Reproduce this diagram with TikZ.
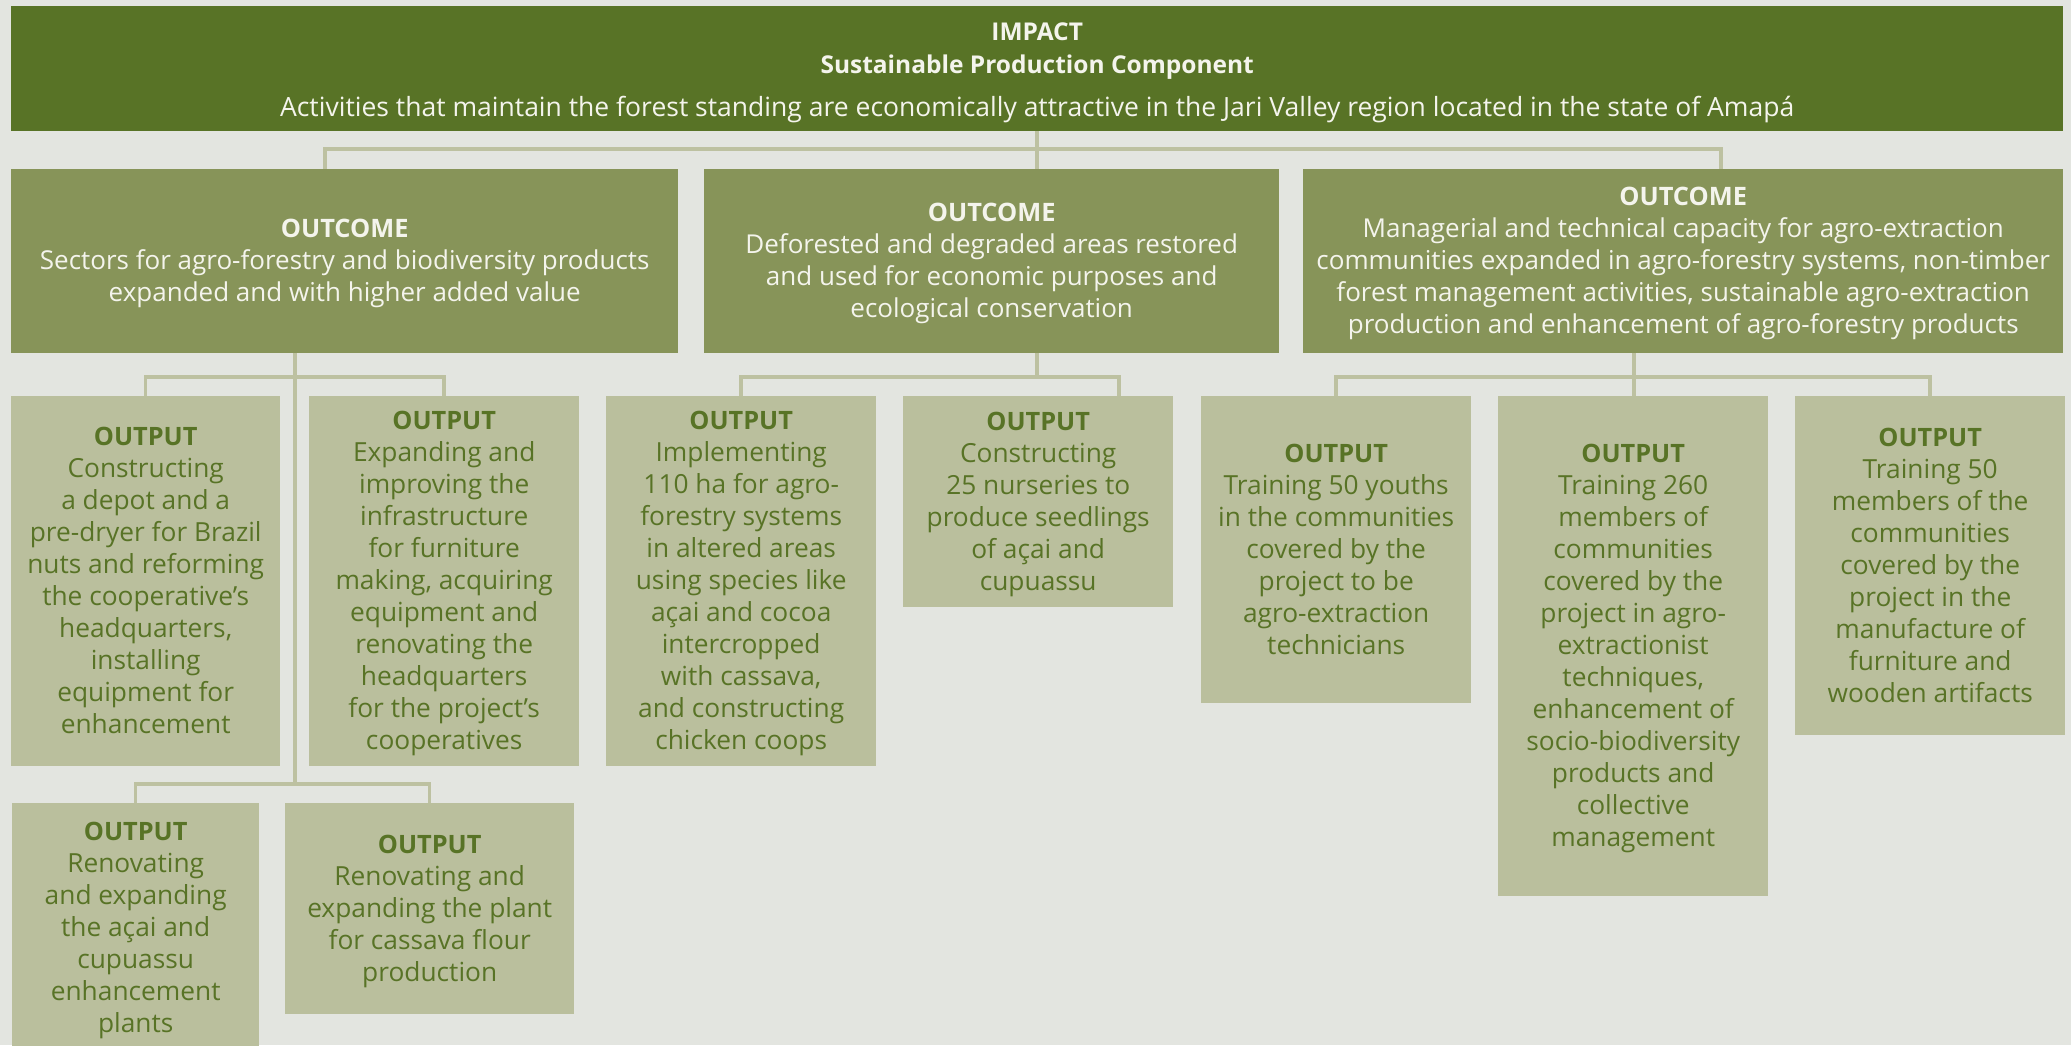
\documentclass[tikz,border=0pt]{standalone}
\usepackage{fontspec}
\setmainfont{Open Sans}
\definecolor{bg}{HTML}{E3E5E0}
\definecolor{impc}{HTML}{587326}
\definecolor{outc}{HTML}{879459}
\definecolor{outp}{HTML}{BABF9D}
\definecolor{conn}{HTML}{BDC1A1}
\definecolor{txtg}{HTML}{587326}
\definecolor{txtw}{HTML}{F4F4EC}
\newcommand\imphd[1]{{\fontsize{24.5}{33}\selectfont\bfseries #1}}
\newcommand\ochd{\rule{0pt}{27pt}{\fontsize{25.4}{32}\selectfont\bfseries OUTCOME}}
\newcommand\ophd{\rule{0pt}{27pt}{\fontsize{25.3}{32}\selectfont\bfseries OUTPUT}}
\tikzset{
  box/.style={anchor=north west, inner sep=0pt, align=center,
    execute at end node={\rule[-9.6pt]{0pt}{9.6pt}}},
  impbox/.style={anchor=north west, inner sep=0pt, align=center, fill=impc, text=txtw,
    font=\fontsize{26.5}{33}\selectfont},
  outcomebox/.style={box, fill=outc, text=txtw, font=\fontsize{26}{32}\selectfont},
  outputbox/.style={box, fill=outp, text=txtg, font=\fontsize{26.3}{32}\selectfont},
  link/.style={draw=conn, line width=3.5pt},
}
\begin{document}
\begin{tikzpicture}[x=1pt,y=-1pt]
\useasboundingbox (0,0) rectangle (2071,1045);
\fill[bg] (0,0) rectangle (2071,1045);
\clip (0,0) rectangle (2071,1045);

% impact
\node[impbox, minimum width=2052pt, minimum height=125pt] (imp) at (11,6)
  {\rule{0pt}{25pt}\imphd{IMPACT}\\ \imphd{Sustainable Production Component}\\[10pt]
   Activities that maintain the forest standing are economically attractive in the Jari Valley region located in the state of Amapá};

% outcomes
\node[outcomebox, minimum width=667pt, minimum height=184pt] (o1) at (11,169)
  {\ochd\\ Sectors for agro-forestry and biodiversity products\\ expanded and with higher added value};
\node[outcomebox, minimum width=575pt, minimum height=184pt] (o2) at (704,169)
  {\ochd\\ Deforested and degraded areas restored\\ and used for economic purposes and\\ ecological conservation};
\node[outcomebox, minimum width=760pt, minimum height=184pt] (o3) at (1303,169)
  {\ochd\\ Managerial and technical capacity for agro-extraction\\ communities expanded in agro-forestry systems, non-timber\\ forest management activities, sustainable agro-extraction\\ production and enhancement of agro-forestry products};

% outputs
\node[outputbox, minimum width=269pt, minimum height=370pt] (a1) at (11,396)
  {\ophd\\ Constructing\\ a depot and a\\ pre-dryer for Brazil\\ nuts and reforming\\ the cooperative’s\\ headquarters,\\ installing\\ equipment for\\ enhancement};
\node[outputbox, minimum width=270pt, minimum height=370pt] (a2) at (309,396)
  {\ophd\\ Expanding and\\ improving the\\ infrastructure\\ for furniture\\ making, acquiring\\ equipment and\\ renovating the\\ headquarters\\ for the project’s\\ cooperatives};
\node[outputbox, minimum width=270pt, minimum height=370pt] (b1) at (606,396)
  {\ophd\\ Implementing\\ 110 ha for agro-\\ forestry systems\\ in altered areas\\ using species like\\ açai and cocoa\\ intercropped\\ with cassava,\\ and constructing\\ chicken coops};
\node[outputbox, minimum width=270pt, minimum height=211pt] (b2) at (903,396)
  {\ophd\\ Constructing\\ 25 nurseries to\\ produce seedlings\\ of açai and\\ cupuassu};
\node[outputbox, minimum width=270pt, minimum height=307pt] (c1) at (1201,396)
  {\ophd\\ Training 50 youths\\ in the communities\\ covered by the\\ project to be\\ agro-extraction\\ technicians};
\node[outputbox, minimum width=270pt, minimum height=500pt] (c2) at (1498,396)
  {\ophd\\ Training 260\\ members of\\ communities\\ covered by the\\ project in agro-\\ extractionist\\ techniques,\\ enhancement of\\ socio-biodiversity\\ products and\\ collective\\ management};
\node[outputbox, minimum width=270pt, minimum height=339pt] (c3) at (1795,396)
  {\ophd\\ Training 50\\ members of the\\ communities\\ covered by the\\ project in the\\ manufacture of\\ furniture and\\ wooden artifacts};
\node[outputbox, minimum width=247pt, minimum height=249pt] (a3) at (12,803)
  {\ophd\\ Renovating\\ and expanding\\ the açai and\\ cupuassu\\ enhancement\\ plants};
\node[outputbox, minimum width=289pt, minimum height=211pt] (a4) at (285,803)
  {\ophd\\ Renovating and\\ expanding the plant\\ for cassava flour\\ production};

% connectors
\coordinate (i1) at (325,149);
\coordinate (i3) at (1721,149);
\draw[link] (i1 |- o1.north) |- (i3) -- (i3 |- o3.north);
\draw[link] (imp.south) -- (imp.south |- o2.north);

\coordinate (ba) at (295,377);
\coordinate (bb) at (295,784);
\draw[link] (ba |- o1.south) -- (bb);
\draw[link] (a1.north) |- (ba) -| (a2.north);
\draw[link] (a3.north) |- (bb) -| (a4.north);

\coordinate (bc) at (1037,377);
\coordinate (b2d) at (1119,396);
\draw[link] (bc |- o2.south) -- (bc);
\draw[link] (b1.north) |- (bc) -| (b2d);

\coordinate (bd) at (1634,377);
\draw[link] (bd |- o3.south) -- (bd |- c2.north);
\draw[link] (c1.north) |- (bd) -| (c3.north);
\end{tikzpicture}
\end{document}
